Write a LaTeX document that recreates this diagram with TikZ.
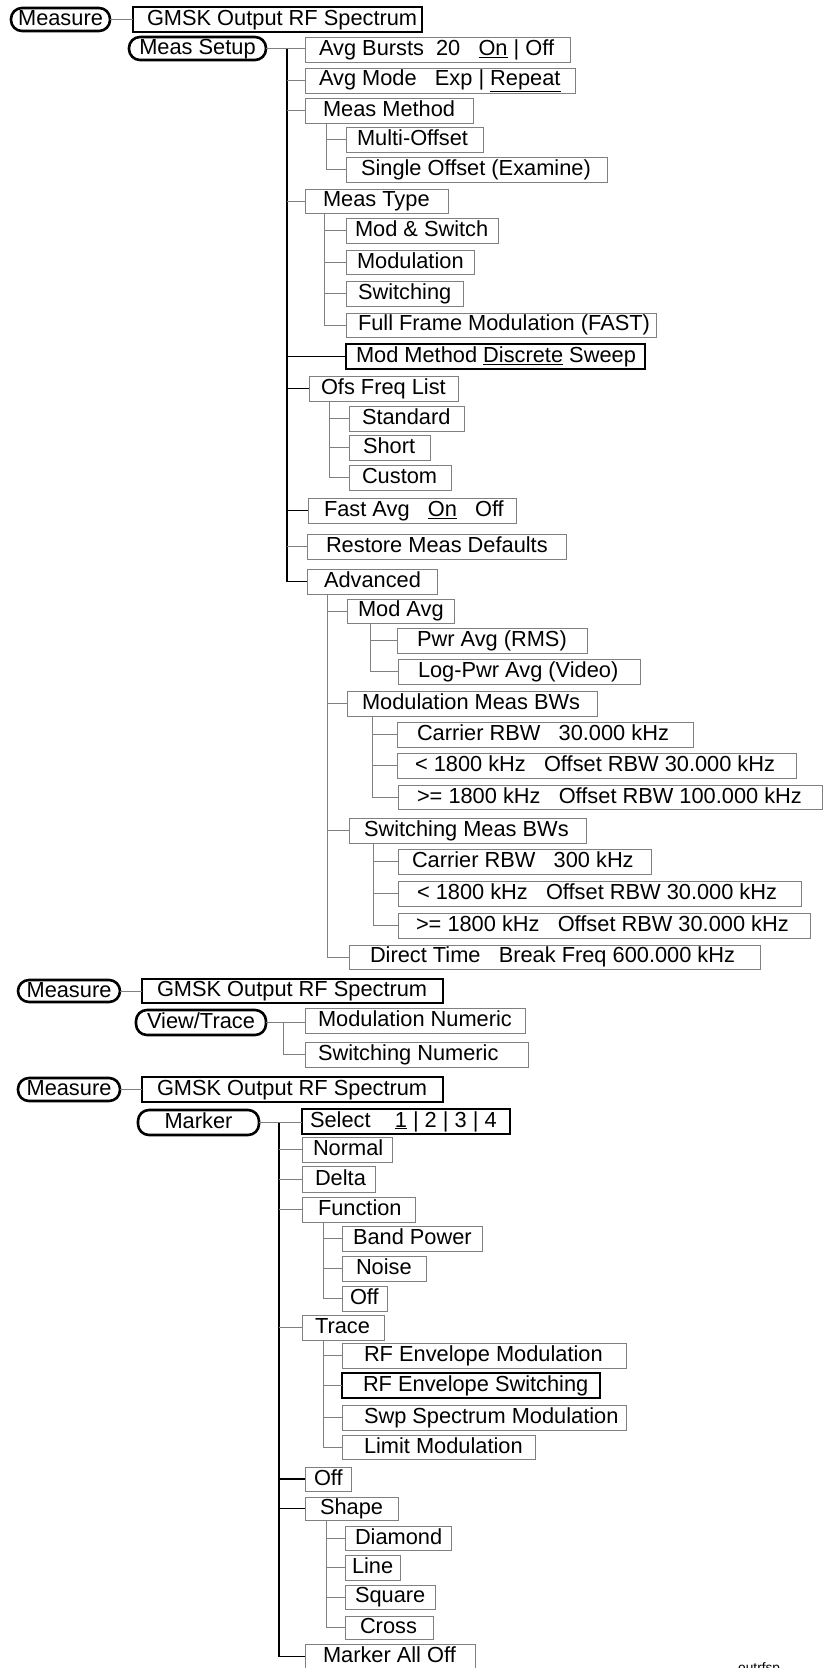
\documentclass[tikz,border=0pt]{standalone}
\usepackage{fontspec}
\setmainfont{Liberation Sans}
\newcommand\txtfont{\fontsize{21.8}{24}\selectfont}
\newcommand\mystrut{\rule[-3pt]{0pt}{18.6pt}}
\tikzset{
  box/.style={draw=black!50, line width=0.9pt, font=\txtfont, inner ysep=0pt, outer sep=0pt},
  dark/.style={draw=black, line width=1.3pt},
  pillst/.style={draw=black, line width=2.6pt, rounded corners=11pt, font=\txtfont, inner sep=0pt, outer sep=0pt, align=center},
  gconn/.style={draw=black!50, line width=0.9pt},
  bconn/.style={draw=black, line width=1.3pt},
  lbl/.style={font=\fontsize{13.7}{15}\selectfont, inner sep=0pt, anchor=north west}
}
% box: [style]{name}{left}{top}{right}{bottom}{pad}{text}
\newcommand\mkbox[8][]{%
  \pgfmathsetmacro\bxw{#5-#3-2*#7}%
  \pgfmathsetmacro\bxh{#6-#4}%
  \node[box,#1,anchor=north west,inner xsep=#7pt,minimum height=\bxh pt] (#2) at (#3,#4) {\makebox[\bxw pt][l]{\mystrut#8}};}
% pill: {name}{left}{top}{right}{bottom}{text}
\newcommand\mkpill[6]{%
  \pgfmathsetmacro\bxw{#4-#2-2}%
  \pgfmathsetmacro\bxh{#5-#3-2}%
  \node[pillst,anchor=north west,minimum width=\bxw pt,minimum height=\bxh pt] (#1) at (#2+1,#3+1) {\mystrut#6};}
\begin{document}
\begin{tikzpicture}[x=1pt,y=-1pt]
\useasboundingbox (0,0) rectangle (823,1668);
% ---------------- Section 1 ----------------
\mkpill{Measure1}{10}{7}{111}{32}{Measure}
\mkbox[dark]{GMSK1}{133}{7}{422}{32}{14}{GMSK Output RF Spectrum}
\mkpill{MeasSetup}{128}{36}{267}{61}{Meas Setup}
\mkbox{AvgBursts}{305}{37}{570}{62}{14}{Avg Bursts~~20~~~\underline{On} | Off}
\mkbox{AvgMode}{305}{68}{575}{93}{14}{Avg Mode~~~Exp | \underline{Repeat}}
\mkbox{MeasMethod}{305}{98}{473}{123}{18}{Meas Method}
\mkbox{MultiOffset}{346}{127}{483}{152}{11}{Multi-Offset}
\mkbox{SingleOffset}{346}{157}{607}{182}{15}{Single Offset (Examine)}
\mkbox{MeasType}{305}{189}{448}{213}{18}{Meas Type}
\mkbox{ModSwitch}{346}{218}{498}{243}{9}{Mod \& Switch}
\mkbox{Modulation}{346}{250}{474}{274}{11}{Modulation}
\mkbox{Switching}{346}{281}{463}{306}{12}{Switching}
\mkbox{FullFrame}{346}{313}{656}{337}{12}{Full Frame Modulation (FAST)}
\mkbox[dark]{ModMethod}{346}{344}{645}{369}{10}{Mod Method \underline{Discrete} Sweep}
\mkbox{OfsFreq}{309}{376}{458}{401}{12}{Ofs Freq List}
\mkbox{Standard}{349}{406}{464}{431}{13}{Standard}
\mkbox{Short}{349}{435}{430}{460}{14}{Short}
\mkbox{Custom}{349}{465}{451}{490}{13}{Custom}
\mkbox{FastAvg}{308}{498}{516}{523}{16}{Fast Avg~~~\underline{On}~~~Off}
\mkbox{Restore}{307}{534}{566}{559}{19}{Restore Meas Defaults}
\mkbox{Advanced}{307}{569}{437}{594}{17}{Advanced}
\mkbox{ModAvg}{347}{599}{454}{623}{11}{Mod Avg}
\mkbox{PwrAvg}{397}{628}{587}{653}{20}{Pwr Avg (RMS)}
\mkbox{LogPwr}{398}{659}{640}{684}{20}{Log-Pwr Avg (Video)}
\mkbox{ModBWs}{347}{691}{597}{716}{15}{Modulation Meas BWs}
\mkbox{CarA}{397}{722}{693}{747}{20}{Carrier RBW~~~30.000 kHz}
\mkbox{LtA}{397}{753}{796}{778}{18}{< 1800 kHz~~~Offset RBW 30.000 kHz}
\mkbox{GeA}{398}{785}{822}{809}{19}{>= 1800 kHz~~~Offset RBW 100.000 kHz}
\mkbox{SwBWs}{349}{818}{586}{843}{15}{Switching Meas BWs}
\mkbox{CarB}{398}{849}{651}{874}{14}{Carrier RBW~~~300 kHz}
\mkbox{LtB}{398}{881}{801}{906}{19}{< 1800 kHz~~~Offset RBW 30.000 kHz}
\mkbox{GeB}{398}{913}{810}{938}{18}{>= 1800 kHz~~~Offset RBW 30.000 kHz}
\mkbox{Direct}{349}{945}{760}{969}{21}{Direct Time~~~Break Freq 600.000 kHz}
% connectors section 1
\draw[gconn] (Measure1.east) -- (GMSK1.west);
\coordinate (T1) at (287,48.5);
\draw[gconn] (MeasSetup.east) -- (MeasSetup.east -| AvgBursts.west);
\draw[bconn] (T1) -- (T1 |- Advanced.west) -- (Advanced.west);
\foreach \n in {AvgMode,MeasMethod,MeasType,Restore}{\draw[gconn] (T1 |- \n.west) -- (\n.west);}
\foreach \n in {ModMethod,OfsFreq,FastAvg}{\draw[bconn] (T1 |- \n.west) -- (\n.west);}
\coordinate (sMM) at (326,0);
\draw[gconn] (sMM |- MeasMethod.south) -- (sMM |- SingleOffset.west) -- (SingleOffset.west);
\draw[gconn] (sMM |- MultiOffset.west) -- (MultiOffset.west);
\coordinate (sMT) at (324,0);
\draw[gconn] (sMT |- MeasType.south) -- (sMT |- FullFrame.west) -- (FullFrame.west);
\foreach \n in {ModSwitch,Modulation,Switching}{\draw[gconn] (sMT |- \n.west) -- (\n.west);}
\coordinate (sOF) at (329,0);
\draw[gconn] (sOF |- OfsFreq.south) -- (sOF |- Custom.west) -- (Custom.west);
\foreach \n in {Standard,Short}{\draw[gconn] (sOF |- \n.west) -- (\n.west);}
\coordinate (sAD) at (327.5,0);
\draw[gconn] (sAD |- Advanced.south) -- (sAD |- Direct.west) -- (Direct.west);
\foreach \n in {ModAvg,ModBWs,SwBWs}{\draw[gconn] (sAD |- \n.west) -- (\n.west);}
\coordinate (sMA) at (370,0);
\draw[gconn] (sMA |- ModAvg.south) -- (sMA |- LogPwr.west) -- (LogPwr.west);
\draw[gconn] (sMA |- PwrAvg.west) -- (PwrAvg.west);
\coordinate (sMB) at (372,0);
\draw[gconn] (sMB |- ModBWs.south) -- (sMB |- GeA.west) -- (GeA.west);
\foreach \n in {CarA,LtA}{\draw[gconn] (sMB |- \n.west) -- (\n.west);}
\coordinate (sSB) at (373.5,0);
\draw[gconn] (sSB |- SwBWs.south) -- (sSB |- GeB.west) -- (GeB.west);
\foreach \n in {CarB,LtB}{\draw[gconn] (sSB |- \n.west) -- (\n.west);}
% ---------------- Section 2 ----------------
\mkpill{Measure2}{17}{979}{121}{1003}{Measure}
\mkbox[dark]{GMSK2}{142}{979}{443}{1003}{15}{GMSK Output RF Spectrum}
\mkpill{ViewTrace}{135}{1009}{267}{1036}{View/Trace}
\mkbox{ModNum}{305}{1008}{525}{1033}{13}{Modulation Numeric}
\mkbox{SwNum}{305}{1042}{528}{1067}{13}{Switching Numeric}
\draw[gconn] (Measure2.east) -- (GMSK2.west);
\coordinate (T2) at (283,1022.5);
\draw[gconn] (ViewTrace.east) -- (ViewTrace.east -| ModNum.west);
\draw[gconn] (T2) -- (T2 |- SwNum.west) -- (SwNum.west);
% ---------------- Section 3 ----------------
\mkpill{Measure3}{17}{1077}{121}{1102}{Measure}
\mkbox[dark]{GMSK3}{142}{1077}{443}{1102}{15}{GMSK Output RF Spectrum}
\mkpill{Marker}{137}{1109}{260}{1136}{Marker}
\mkbox[dark]{Select}{302}{1109}{510}{1134}{8}{Select~~~~\underline{1} | 2 | 3 | 4}
\mkbox{Normal}{302}{1137}{392}{1162}{11}{Normal}
\mkbox{Delta}{302}{1166}{375}{1192}{13}{Delta}
\mkbox{Function}{302}{1197}{415}{1222}{16}{Function}
\mkbox{BandPower}{342}{1226}{482}{1251}{11}{Band Power}
\mkbox{Noise}{342}{1256}{426}{1281}{14}{Noise}
\mkbox{FOff}{342}{1286}{387}{1311}{8}{Off}
\mkbox{Trace}{302}{1315}{384}{1340}{13}{Trace}
\mkbox{RFMod}{342}{1343}{626}{1368}{22}{RF Envelope Modulation}
\mkbox[dark]{RFSw}{342}{1373}{600}{1398}{21}{RF Envelope Switching}
\mkbox{Swp}{342}{1405}{626}{1430}{22}{Swp Spectrum Modulation}
\mkbox{Limit}{342}{1435}{535}{1459}{22}{Limit Modulation}
\mkbox{MOff}{305}{1467}{351}{1491}{9}{Off}
\mkbox{Shape}{305}{1497}{398}{1520}{15}{Shape}
\mkbox{Diamond}{345}{1526}{451}{1550}{10}{Diamond}
\mkbox{Line}{345}{1555}{400}{1580}{7}{Line}
\mkbox{Square}{345}{1585}{435}{1609}{10}{Square}
\mkbox{Cross}{345}{1616}{433}{1639}{15}{Cross}
\mkbox{AllOff}{305}{1644}{475}{1669}{18}{Marker All Off}
\draw[gconn] (Measure3.east) -- (GMSK3.west);
\coordinate (T3) at (279,1122.5);
\draw[gconn] (Marker.east) -- (Marker.east -| Select.west);
\draw[bconn] (T3) -- (T3 |- AllOff.west) -- (AllOff.west);
\foreach \n in {Normal,Delta,Function,Trace}{\draw[gconn] (T3 |- \n.west) -- (\n.west);}
\foreach \n in {MOff,Shape}{\draw[bconn] (T3 |- \n.west) -- (\n.west);}
\coordinate (sFN) at (323,0);
\draw[gconn] (sFN |- Function.south) -- (sFN |- FOff.west) -- (FOff.west);
\foreach \n in {BandPower,Noise}{\draw[gconn] (sFN |- \n.west) -- (\n.west);}
\coordinate (sTR) at (323,0);
\draw[gconn] (sTR |- Trace.south) -- (sTR |- Limit.west) -- (Limit.west);
\foreach \n in {RFMod,RFSw,Swp}{\draw[gconn] (sTR |- \n.west) -- (\n.west);}
\coordinate (sSH) at (326,0);
\draw[gconn] (sSH |- Shape.south) -- (sSH |- Cross.west) -- (Cross.west);
\foreach \n in {Diamond,Line,Square}{\draw[gconn] (sSH |- \n.west) -- (\n.west);}
\node[lbl] (tag) at (738,1662) {outrfsp};
\end{tikzpicture}
\end{document}
